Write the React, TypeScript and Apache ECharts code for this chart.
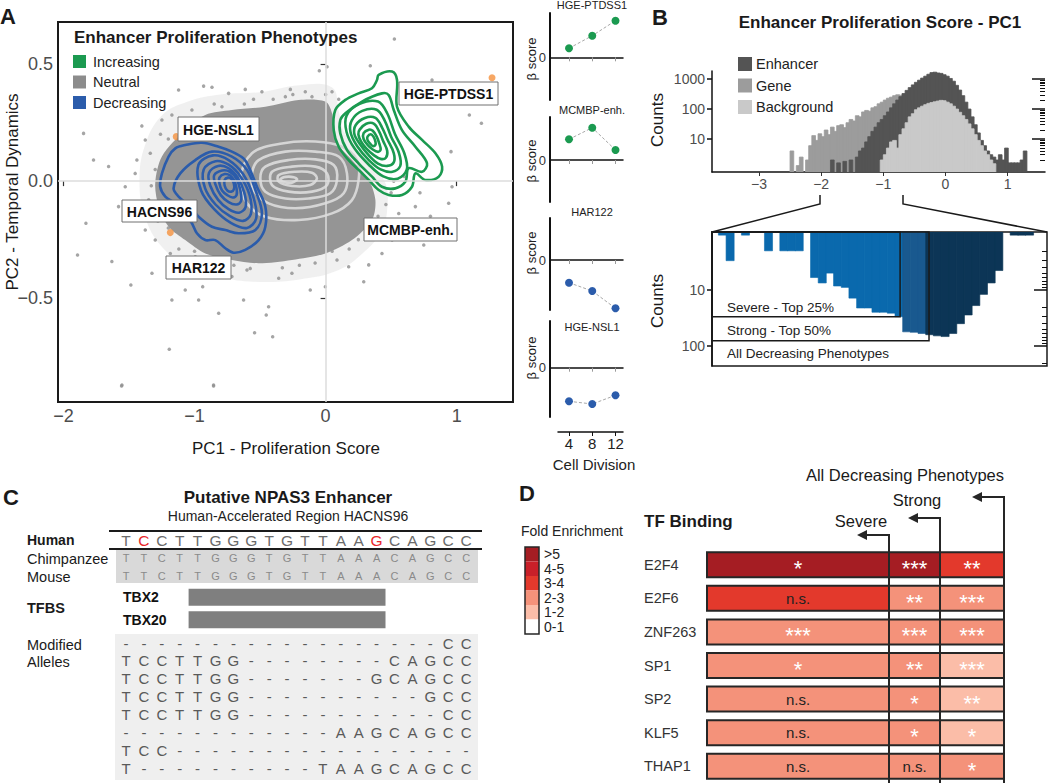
import React, { useEffect, useRef } from "react";
import * as echarts from "echarts";

const FONT = "'Liberation Sans', Arial, Helvetica, sans-serif";

/* ===================== DATA ===================== */
// ---- Panel A: PCA of enhancer phenotypes ----
const phenotypeNames = ["Increasing", "Neutral", "Decreasing"];
const enhancerPoints: number[][] = [
  [0.525, 0.607], [-0.048, 0.472], [0.011, 0.489], [0.341, 0.493], [-1.847, 0.204], [-1.893, -0.316],
  [-1.829, -0.18], [-1.631, -0.344], [-1.486, -0.444], [-1.554, -0.871], [-1.193, -0.719], [-0.855, -0.871],
  [-0.542, -0.648], [-0.404, -0.665], [-0.435, -0.537], [-0.453, -0.572], [-0.626, -0.508], [-0.816, -0.565],
  [-1.402, 0.236], [-1.376, 0.176], [-1.249, 0.261], [-1.173, 0.283], [-1.122, 0.389], [-0.931, 0.406],
  [-0.867, 0.401], [-0.74, 0.375], [-0.613, 0.392], [-0.486, 0.382], [-0.269, 0.392], [-0.155, 0.382],
  [0.049, 0.382], [0.957, 0.126], [1.097, 0.283], [1.189, 0.247], [0.939, -0.095], [0.914, -0.166],
  [0.749, -0.273], [0.43, -0.309], [0.329, -0.358], [0.291, -0.43], [0.087, -0.337], [-0.002, -0.451],
  [-0.117, -0.465], [-0.257, -0.394], [-0.358, -0.415], [-0.575, -0.373], [-1.656, 0.062], [-1.44, 0.09],
  [-1.453, 0.033], [-1.338, -0.152], [-1.376, -0.209], [-1.3, -0.252], [-1.185, -0.309], [-0.994, -0.323],
  [-0.938, -0.451], [-1.122, -0.394], [-1.771, 0.09], [0.812, 0.432], [0.761, 0.347], [0.965, -0.024],
  [0.685, -0.109], [0.558, -0.138], [0.634, -0.209], [0.507, -0.252], [-0.715, -0.408], [-0.842, -0.366],
  [-1.071, -0.465], [-1.173, -0.508], [-1.325, -0.394], [-0.969, -0.508], [0.176, -0.366], [0.43, -0.223],
  [-1.02, 0.304], [-0.791, 0.318], [-0.307, 0.361], [-0.104, 0.361], [-0.969, 0.233], [-1.338, 0.119],
  [-1.529, -0.024], [-1.58, -0.109], [-0.855, -0.876], [-1.557, -0.876], [-0.62, 0.33], [-0.4, 0.35],
  [-0.15, 0.33], [0.1, 0.35], [-1.2, 0.18], [-1.3, 0.05], [-1.35, -0.08], [-1.2, -0.2], [-1.0, -0.3],
  [-0.7, -0.36], [-0.45, -0.33], [-0.2, -0.36], [0.05, -0.3], [0.25, -0.25], [0.4, -0.15], [0.5, -0.05],
  [0.6, 0.02], [0.72, -0.05], [0.8, -0.15], [0.55, -0.2], [-1.26, 0.2], [-1.33, -0.02], [-1.28, -0.17],
  [-1.12, -0.29], [-0.86, -0.34], [-0.6, -0.38], [-0.33, -0.37], [-0.08, -0.35], [0.18, -0.29],
  [0.36, -0.22], [0.46, -0.1], [0.52, 0.0], [-0.55, 0.35], [-0.25, 0.37], [0.0, 0.37], [-0.85, 0.33],
];
const highlightedPoints: number[][] = [[1.27, 0.442], [-1.185, -0.22], [-1.14, 0.19]];
const labelledEnhancers = ["HGE-PTDSS1", "HGE-NSL1", "HACNS96", "HAR122", "MCMBP-enh."];
const denseCloudCore: number[][] = [
  [-1.071, 0.218], [-0.918, 0.283], [-0.715, 0.304], [-0.46, 0.318], [-0.206, 0.347], [-0.002, 0.34],
  [0.049, 0.29], [0.074, 0.176], [0.201, 0.09], [0.329, 0.005], [0.38, -0.081], [0.354, -0.166],
  [0.201, -0.252], [-0.002, -0.309], [-0.257, -0.337], [-0.511, -0.351], [-0.715, -0.337], [-0.918, -0.309],
  [-1.071, -0.252], [-1.198, -0.195], [-1.274, -0.109], [-1.3, -0.009], [-1.249, 0.105],
];
const denseCloudHalo: number[][] = [
  [-1.25, 0.28], [-1.05, 0.34], [-0.8, 0.37], [-0.5, 0.38], [-0.2, 0.41], [0.05, 0.4], [0.1, 0.3],
  [0.15, 0.2], [0.3, 0.1], [0.45, 0.0], [0.47, -0.12], [0.42, -0.22], [0.3, -0.3], [0.1, -0.38],
  [-0.2, -0.42], [-0.55, -0.43], [-0.8, -0.41], [-1.05, -0.36], [-1.25, -0.28], [-1.38, -0.15],
  [-1.42, 0.0], [-1.38, 0.15],
];
const neutralContours: number[][][] = [
  [[-0.562, 0.119], [-0.333, 0.161], [-0.078, 0.169], [0.125, 0.147], [0.24, 0.09], [0.252, 0.005], [0.201, -0.081], [0.049, -0.138], [-0.206, -0.166], [-0.46, -0.152], [-0.6, -0.095], [-0.651, 0.005]],
  [[-0.511, 0.09], [-0.307, 0.126], [-0.078, 0.126], [0.1, 0.105], [0.163, 0.033], [0.138, -0.052], [-0.002, -0.095], [-0.231, -0.116], [-0.435, -0.095], [-0.549, -0.038], [-0.562, 0.033]],
  [[-0.46, 0.062], [-0.282, 0.09], [-0.078, 0.093], [0.062, 0.069], [0.087, 0.005], [0.036, -0.052], [-0.129, -0.074], [-0.307, -0.074], [-0.46, -0.045], [-0.498, 0.012]],
  [[-0.409, 0.04], [-0.257, 0.062], [-0.078, 0.062], [0.011, 0.033], [0.011, -0.017], [-0.104, -0.045], [-0.282, -0.045], [-0.409, -0.017]],
  [[-0.358, 0.026], [-0.231, 0.04], [-0.104, 0.036], [-0.066, 0.012], [-0.117, -0.017], [-0.257, -0.021], [-0.358, -0.002]],
  [[-0.345, 0.008], [-0.282, 0.019], [-0.218, 0.009], [-0.257, -0.007], [-0.32, -0.004]],
];
const decreasingContours: number[][][] = [
  [[-1.071, 0.154], [-0.944, 0.164], [-0.816, 0.147], [-0.715, 0.126], [-0.626, 0.097], [-0.587, 0.062], [-0.524, -0.024], [-0.46, -0.109], [-0.46, -0.195], [-0.511, -0.252], [-0.613, -0.294], [-0.702, -0.306], [-0.765, -0.287], [-0.842, -0.252], [-0.918, -0.252], [-0.982, -0.223], [-1.02, -0.18], [-1.071, -0.138], [-1.147, -0.095], [-1.223, -0.066], [-1.262, -0.024], [-1.249, 0.033], [-1.198, 0.105], [-1.147, 0.14]],
  [[-0.994, 0.09], [-0.867, 0.126], [-0.715, 0.105], [-0.6, 0.048], [-0.536, -0.038], [-0.486, -0.138], [-0.536, -0.209], [-0.664, -0.223], [-0.765, -0.209], [-0.867, -0.195], [-0.969, -0.152], [-1.033, -0.109], [-1.122, -0.066], [-1.16, -0.031], [-1.109, 0.033]],
  [[-0.97, 0.07], [-0.86, 0.11], [-0.74, 0.09], [-0.63, 0.03], [-0.55, -0.07], [-0.53, -0.16], [-0.6, -0.2], [-0.72, -0.18], [-0.85, -0.12], [-0.95, -0.04]],
  [[-0.93, 0.05], [-0.84, 0.085], [-0.74, 0.07], [-0.65, 0.02], [-0.58, -0.06], [-0.57, -0.14], [-0.63, -0.17], [-0.73, -0.15], [-0.84, -0.1], [-0.92, -0.03]],
  [[-0.89, 0.035], [-0.82, 0.065], [-0.74, 0.055], [-0.67, 0.015], [-0.62, -0.05], [-0.61, -0.11], [-0.66, -0.135], [-0.74, -0.12], [-0.82, -0.08], [-0.88, -0.02]],
  [[-0.85, 0.025], [-0.79, 0.045], [-0.73, 0.04], [-0.68, 0.01], [-0.65, -0.04], [-0.645, -0.085], [-0.68, -0.1], [-0.74, -0.09], [-0.8, -0.06], [-0.84, -0.015]],
  [[-0.81, 0.015], [-0.77, 0.03], [-0.73, 0.025], [-0.7, 0.005], [-0.68, -0.03], [-0.68, -0.06], [-0.71, -0.07], [-0.75, -0.06], [-0.79, -0.04], [-0.81, -0.01]],
  [[-0.77, 0.005], [-0.745, 0.015], [-0.72, 0.01], [-0.7, -0.01], [-0.7, -0.035], [-0.72, -0.045], [-0.75, -0.04], [-0.77, -0.02]],
];
const increasingContours: number[][][] = [
  [[0.405, 0.454], [0.507, 0.468], [0.545, 0.432], [0.545, 0.318], [0.634, 0.233], [0.736, 0.176], [0.838, 0.119], [0.889, 0.062], [0.863, 0.019], [0.761, 0.005], [0.685, 0.033], [0.659, -0.024], [0.583, -0.059], [0.481, -0.059], [0.405, -0.038], [0.329, 0.005], [0.252, 0.048], [0.176, 0.09], [0.1, 0.147], [0.062, 0.218], [0.074, 0.304], [0.151, 0.347], [0.252, 0.375], [0.354, 0.397], [0.392, 0.432]],
  [[0.151, 0.29], [0.278, 0.34], [0.43, 0.375], [0.481, 0.368], [0.52, 0.304], [0.583, 0.218], [0.685, 0.147], [0.774, 0.076], [0.736, 0.04], [0.634, 0.055], [0.609, -0.002], [0.532, -0.031], [0.43, -0.024], [0.354, 0.019], [0.252, 0.076], [0.163, 0.133], [0.112, 0.204], [0.112, 0.261]],
  [[0.16, 0.28], [0.26, 0.33], [0.4, 0.34], [0.47, 0.29], [0.53, 0.2], [0.6, 0.12], [0.62, 0.05], [0.55, 0.01], [0.44, 0.02], [0.33, 0.07], [0.22, 0.14], [0.16, 0.21]],
  [[0.2, 0.26], [0.28, 0.3], [0.39, 0.305], [0.45, 0.26], [0.5, 0.19], [0.56, 0.12], [0.57, 0.065], [0.51, 0.04], [0.42, 0.05], [0.33, 0.09], [0.24, 0.15], [0.19, 0.21]],
  [[0.23, 0.24], [0.3, 0.27], [0.38, 0.27], [0.43, 0.23], [0.47, 0.18], [0.52, 0.12], [0.52, 0.08], [0.47, 0.065], [0.4, 0.075], [0.33, 0.11], [0.26, 0.16], [0.22, 0.2]],
  [[0.26, 0.22], [0.31, 0.245], [0.37, 0.245], [0.41, 0.21], [0.44, 0.17], [0.47, 0.13], [0.46, 0.1], [0.42, 0.095], [0.37, 0.11], [0.31, 0.14], [0.27, 0.17], [0.25, 0.2]],
  [[0.29, 0.205], [0.33, 0.22], [0.36, 0.215], [0.39, 0.19], [0.41, 0.16], [0.42, 0.135], [0.4, 0.125], [0.36, 0.135], [0.32, 0.155], [0.29, 0.18]],
  [[0.32, 0.19], [0.345, 0.2], [0.365, 0.19], [0.38, 0.17], [0.38, 0.155], [0.36, 0.15], [0.34, 0.16], [0.32, 0.175]],
];

// ---- Panel A (right): beta scores over cell divisions ----
const cellDivisions = [4, 8, 12];
const miniEnhancers = ["HGE-PTDSS1", "MCMBP-enh.", "HAR122", "HGE-NSL1"];
const betaHGEPTDSS1 = [0.09, 0.216, 0.366];
const betaMCMBP = [0.207, 0.323, 0.1];
const betaHAR122 = [-0.227, -0.31, -0.483];
const betaHGENSL1 = [-0.336, -0.363, -0.276];
const miniPhenotype = ["Increasing", "Increasing", "Decreasing", "Decreasing"];

// ---- Panel B: PC1 histograms (bin width 0.05) ----
const histBinWidth = 0.05;
const histSeriesNames = ["Enhancer", "Gene", "Background"];
const geneBinStart = -2.55;
const geneCounts = [0, 4, 0, 1.3, 2.5, 0, 2, 6, 13, 9, 15, 12, 20, 14, 25, 18, 28, 30, 24, 35, 45, 40, 60, 55, 80, 90, 85, 110, 120, 150, 170, 200, 230, 250, 280, 300, 290, 280, 260, 200, 150, 100, 60, 30];
const enhancerBinStart = -1.9;
const enhancerCounts = [0, 2, 0, 1.6, 0, 1.8, 0, 2, 0, 2.5, 4, 5, 8, 12, 18, 25, 35, 45, 60, 80, 110, 150, 200, 260, 330, 420, 520, 640, 780, 920, 1080, 1250, 1450, 1650, 1700, 1600, 1550, 1400, 1250, 1050, 850, 620, 430, 280, 170, 100, 55, 30, 16, 9, 6, 4, 3, 2.5, 2, 3, 2, 5, 1.6, 1.6, 1.6, 1.6, 2, 4];
const backgroundBinStart = -1.1;
const backgroundCounts = [0, 2, 3, 5, 8, 9, 5, 14, 22, 35, 55, 70, 95, 110, 125, 140, 155, 165, 175, 185, 195, 190, 170, 150, 125, 100, 78, 60, 45, 32, 22, 14, 9, 6, 4, 3, 2, 1.5];
const histTicks = [-3, -2, -1, 0, 1];

// ---- Panel B (zoom): decreasing phenotypes (bin width 0.03) ----
const decBinWidth = 0.03;
const decBinStart = -1.975;
const decCounts = [1.05, 3, 0, 1.05, 0, 0, 2, 0, 2, 2, 2, 0, 6, 7.5, 5, 8.5, 9, 14, 21, 21, 25, 25, 26, 30, 56, 57, 60, 63, 66, 68, 60, 40, 28, 19, 12, 7.5, 4.5, 0, 1.05, 1.05, 1.05];
const decClasses = ["Severe - Top 25%", "Strong - Top 50%", "All Decreasing Phenotypes"];
const severeCut = -1.265;
const strongCut = -1.152;
const severeBoxCount = 30;
const strongBoxCount = 81;

// ---- Panel C: sequence ----
const humanSeq = "TCCTTGGGTGTTAAGCAGCC";
const chimpSeq = "TTCTTGGGTGTTAAACAGCC";
const mouseSeq = "TTCTTGGGTGTTAAACAGCC";
const humanChangedSites = [1, 14];
const tfbsNames = ["TBX2", "TBX20"];
const tfbsStart = [4, 4];
const tfbsEnd = [14, 14];
const modifiedAlleles = [
  "------------------CC",
  "TCCTTGG--------CAGCC",
  "TCCTTGG-------GCAGCC",
  "TCCTTGG----------GCC",
  "TCCTTGG-----------CC",
  "------------AAGCAGCC",
  "TCC-----------------",
  "T----------TAAGCAGCC",
];

// ---- Panel D: TF binding enrichment ----
const tfNames = ["E2F4", "E2F6", "ZNF263", "SP1", "SP2", "KLF5", "THAP1"];
const enrichmentSets = ["Severe", "Strong", "All Decreasing Phenotypes"];
const foldSevere = [5.6, 3.4, 2.6, 2.4, 2.3, 2.4, 2.2];
const foldStrong = [5.3, 2.5, 2.7, 2.6, 2.5, 2.6, 2.4];
const foldAll = [3.5, 2.6, 2.5, 1.8, 1.6, 1.5, 2.7];
const sigSevere = ["*", "n.s.", "***", "*", "n.s.", "n.s.", "n.s."];
const sigStrong = ["***", "**", "***", "**", "*", "*", "n.s."];
const sigAll = ["**", "***", "***", "***", "**", "*", "*"];
const foldBinLabels = [">5", "4-5", "3-4", "2-3", "1-2", "0-1"];
const foldBinLower = [5, 4, 3, 2, 1, 0];

/* ===================== STYLE ===================== */
const phenoColors: Record<string, string> = { Increasing: "#1b9a50", Neutral: "#8c8c8c", Decreasing: "#2b5cab" };
const histColors = ["#545454", "#9c9c9c", "#c9c9c9"];
const decColors = ["#0a69ad", "#19598f", "#0c3556"];
const foldColors = ["#a51d23", "#c92029", "#e3392c", "#f4927a", "#fbbda8", "#ffffff"];
const minus = (s: string) => s.replace(/-/g, "\u2212");
const log10 = (v: number) => Math.log(v) / Math.LN10;

function T(text: string, x: number, y: number, o: any = {}) {
  return {
    type: "text", x, y, z: 100, silent: true, rotation: o.rotation || 0,
    style: {
      text, x: 0, y: 0, fill: o.color || "#1a1a1a", fontSize: o.size || 14,
      fontWeight: o.bold ? "bold" : "normal", fontFamily: FONT,
      align: o.align || "left", verticalAlign: "middle",
    },
  };
}
function R(x: number, y: number, w: number, h: number, fill: string, o: any = {}) {
  return {
    type: "rect", z: o.z ?? 100, silent: true, shape: { x, y, width: w, height: h },
    style: { fill, stroke: o.stroke || null, lineWidth: o.lw || 0 },
  };
}
function L(points: number[][], o: any = {}) {
  return { type: "polyline", z: 100, silent: true, shape: { points }, style: { stroke: o.color || "#1a1a1a", lineWidth: o.lw || 1.5, fill: null } };
}

/* ===================== OPTION ===================== */
function buildOption() {
  const grid: any[] = [];
  const xAxis: any[] = [];
  const yAxis: any[] = [];
  const series: any[] = [];
  const graphic: any[] = [];
  const noSplit = { show: false };

  // ---------- Panel A main ----------
  grid.push({ left: 58, top: 22, width: 455, height: 380, show: true, borderColor: "#1a1a1a", borderWidth: 2, backgroundColor: "transparent" });
  xAxis.push({
    type: "value", gridIndex: 0, min: -2.042, max: 1.43, splitLine: noSplit, axisLine: { show: false },
    axisTick: { show: true, customValues: [-2, -1, 0, 1], length: 5, lineStyle: { color: "#333", width: 1.2 } },
    axisLabel: { customValues: [-2, -1, 0, 1], fontSize: 18, color: "#4d4d4d", margin: 5, fontFamily: FONT, formatter: (v: number) => minus(String(v)) },
  });
  yAxis.push({
    type: "value", gridIndex: 0, min: -0.944, max: 0.68, splitLine: noSplit, axisLine: { show: false },
    axisTick: { show: true, customValues: [-0.5, 0, 0.5], length: 5, lineStyle: { color: "#333", width: 1.2 } },
    axisLabel: { customValues: [-0.5, 0, 0.5], fontSize: 18, color: "#4d4d4d", margin: 5, fontFamily: FONT, formatter: (v: number) => minus(v.toFixed(1)) },
  });
  const polySeries = (rings: number[][][], fill: string | null, stroke: string | null, z: number, lw = 2.5, smooth = 0.35) => ({
    type: "custom", xAxisIndex: 0, yAxisIndex: 0, z, silent: true, clip: true,
    data: rings.map((r) => [r[0][0], r[0][1]]),
    renderItem: (params: any, api: any) => {
      const pts = rings[params.dataIndex].map((p) => api.coord(p));
      return { type: "polygon", shape: { points: pts, smooth }, style: { fill: fill || "none", stroke: stroke || "none", lineWidth: lw } };
    },
  });
  series.push(polySeries([denseCloudHalo], "rgba(150,150,150,0.14)", null, 1, 0, 0.4));
  series.push({
    type: "scatter", xAxisIndex: 0, yAxisIndex: 0, z: 1, silent: true, symbolSize: 3.5,
    itemStyle: { color: "#8f8f8f" }, data: enhancerPoints,
    markLine: {
      silent: true, symbol: "none", label: { show: false }, animation: false,
      lineStyle: { color: "#dcdcdc", width: 1.5, type: "solid" },
      data: [{ xAxis: 0 }, { yAxis: 0 }],
    },
  });
  series.push(polySeries([denseCloudCore], "#959595", null, 2, 0, 0.3));
  series.push(polySeries(neutralContours, null, "#d5d5d5", 3, 2.6));
  series.push(polySeries(decreasingContours, null, phenoColors.Decreasing, 4, 2.6));
  series.push(polySeries(increasingContours, null, phenoColors.Increasing, 4, 2.6));
  series.push({ type: "scatter", xAxisIndex: 0, yAxisIndex: 0, z: 6, silent: true, symbolSize: 7, itemStyle: { color: "#f5913d" }, data: highlightedPoints });

  // ---------- Mini panels ----------
  const miniLayout = [
    { top: 13, h: 87, min: -0.427, max: 0.443, title: 5, beta: 59 },
    { top: 117, h: 85, min: -0.42, max: 0.43, title: 110, beta: 161 },
    { top: 218, h: 92, min: -0.5, max: 0.42, title: 212, beta: 253 },
    { top: 321, h: 96, min: -0.493, max: 0.467, title: 327, beta: 358 },
  ];
  const miniValues = [betaHGEPTDSS1, betaMCMBP, betaHAR122, betaHGENSL1];
  miniLayout.forEach((m, i) => {
    const gi = grid.length;
    grid.push({ left: 550, top: m.top, width: 73, height: m.h });
    xAxis.push({
      type: "value", gridIndex: gi, min: 0.73, max: 13.29, splitLine: noSplit,
      axisLine: { show: true, onZero: true, lineStyle: { color: "#111", width: 1.5 } },
      axisTick: { show: true, customValues: cellDivisions, length: 4, lineStyle: { color: "#9a9a9a" } },
      axisLabel: { show: false },
    });
    yAxis.push({
      type: "value", gridIndex: gi, min: m.min, max: m.max, splitLine: noSplit,
      axisLine: { show: true, onZero: false, lineStyle: { color: "#111", width: 2 } },
      axisTick: { show: false },
      axisLabel: { customValues: [0], fontSize: 13, color: "#333", margin: 4, fontFamily: FONT },
    });
    const col = phenoColors[miniPhenotype[i]];
    series.push({
      type: "line", xAxisIndex: gi, yAxisIndex: gi, silent: true, z: 5,
      data: cellDivisions.map((c, k) => [c, miniValues[i][k]]),
      symbol: "circle", symbolSize: 8, itemStyle: { color: col },
      lineStyle: { color: "#a8a8a8", width: 1, type: [3, 2] },
    });
    graphic.push(T(miniEnhancers[i], 592, m.title, { size: 11, align: "center", color: "#222" }));
    graphic.push(T("\u03b2 score", 531, m.beta, { size: 13, align: "center", rotation: Math.PI / 2, color: "#222" }));
  });
  {
    const gi = grid.length;
    grid.push({ left: 558, top: 431, width: 65, height: 1 });
    xAxis.push({
      type: "value", gridIndex: gi, min: 2.107, max: 13.29, splitLine: noSplit,
      axisLine: { show: true, onZero: false, lineStyle: { color: "#111", width: 1.5 } },
      axisTick: { show: true, customValues: cellDivisions, length: 4, lineStyle: { color: "#111" } },
      axisLabel: { customValues: cellDivisions, fontSize: 15, color: "#222", margin: 4, fontFamily: FONT },
    });
    yAxis.push({ type: "value", gridIndex: gi, show: false, min: 0, max: 1 });
    graphic.push(T("Cell Division", 594, 464, { size: 15, align: "center", color: "#222" }));
  }

  // ---------- Panel B top ----------
  const bTopGrid = grid.length;
  grid.push({ left: 712, top: 71, width: 333, height: 101 });
  const bTopMin = -0.1, bTopMax = 3.27;
  xAxis.push({
    type: "value", gridIndex: bTopGrid, min: -3.755, max: 1.6, splitLine: noSplit,
    axisLine: { show: true, onZero: false, lineStyle: { color: "#111", width: 1.5 } },
    axisTick: { show: true, customValues: histTicks, length: 4, lineStyle: { color: "#333" } },
    axisLabel: { customValues: histTicks, fontSize: 14, color: "#4d4d4d", margin: 5, fontFamily: FONT, formatter: (v: number) => minus(String(v)) },
  });
  const bTopY = yAxis.length;
  const majors3 = [1, 2, 3];
  const minors3: number[] = [];
  [1, 10, 100, 1000].forEach((d) => [2, 3, 4, 5, 6, 7, 8, 9].forEach((k) => { const v = log10(k * d); if (v < bTopMax) minors3.push(v); }));
  yAxis.push({
    type: "value", gridIndex: bTopGrid, min: bTopMin, max: bTopMax, splitLine: noSplit,
    axisLine: { show: true, onZero: false, lineStyle: { color: "#111", width: 1.5 } },
    axisTick: { show: true, customValues: majors3, length: 5, lineStyle: { color: "#111", width: 1.5 } },
    axisLabel: { customValues: majors3, fontSize: 14, color: "#4d4d4d", margin: 7, fontFamily: FONT, formatter: (v: number) => String(Math.round(Math.pow(10, v))) },
  });
  yAxis.push({ type: "value", gridIndex: bTopGrid, min: bTopMin, max: bTopMax, splitLine: noSplit, axisLine: { show: false, onZero: false }, axisLabel: { show: false }, axisTick: { show: true, inside: true, customValues: majors3, length: 13, lineStyle: { color: "#111", width: 1.5 } } });
  yAxis.push({ type: "value", gridIndex: bTopGrid, min: bTopMin, max: bTopMax, splitLine: noSplit, axisLine: { show: false, onZero: false }, axisLabel: { show: false }, axisTick: { show: true, inside: true, customValues: minors3, length: 5, lineStyle: { color: "#111", width: 1 } } });
  const histSeries = (start: number, counts: number[], color: string, z: number) => ({
    type: "custom", xAxisIndex: bTopGrid, yAxisIndex: bTopY, z, silent: true, clip: true,
    data: counts.map((c, i) => [start + i * histBinWidth, c > 0 ? log10(c) : null]).filter((d) => d[1] !== null),
    renderItem: (params: any, api: any) => {
      const x0 = api.value(0), v = api.value(1);
      const p0 = api.coord([x0, bTopMin]);
      const p1 = api.coord([x0 + histBinWidth, v]);
      return { type: "rect", shape: { x: p0[0], y: p1[1], width: p1[0] - p0[0] + 0.6, height: p0[1] - p1[1] }, style: { fill: color, stroke: color, lineWidth: 0.8 } };
    },
  });
  series.push(histSeries(geneBinStart, geneCounts, histColors[1], 2));
  series.push(histSeries(enhancerBinStart, enhancerCounts, histColors[0], 3));
  series.push(histSeries(backgroundBinStart, backgroundCounts, histColors[2], 4));

  // ---------- Panel B bottom ----------
  const bBotGrid = grid.length;
  grid.push({ left: 712, top: 232, width: 335, height: 134, show: true, borderColor: "#1a1a1a", borderWidth: 1.5, backgroundColor: "transparent" });
  const bBotMin = -0.035, bBotMax = 2.358, bBotXMin = -2.0, bBotXMax = -0.691;
  xAxis.push({ type: "value", gridIndex: bBotGrid, show: false, min: bBotXMin, max: bBotXMax });
  const bBotY = yAxis.length;
  const minors2: number[] = [];
  [1, 10, 100].forEach((d) => [2, 3, 4, 5, 6, 7, 8, 9].forEach((k) => { const v = log10(k * d); if (v < bBotMax) minors2.push(v); }));
  yAxis.push({
    type: "value", gridIndex: bBotGrid, inverse: true, min: bBotMin, max: bBotMax, splitLine: noSplit,
    axisLine: { show: true, onZero: false, lineStyle: { color: "#111", width: 1.5 } },
    axisTick: { show: true, customValues: [1, 2], length: 5, lineStyle: { color: "#111", width: 1.5 } },
    axisLabel: { customValues: [1, 2], fontSize: 14, color: "#4d4d4d", margin: 7, fontFamily: FONT, formatter: (v: number) => String(Math.round(Math.pow(10, v))) },
  });
  yAxis.push({ type: "value", gridIndex: bBotGrid, inverse: true, min: bBotMin, max: bBotMax, splitLine: noSplit, axisLine: { show: false, onZero: false }, axisLabel: { show: false }, axisTick: { show: true, inside: true, customValues: [1, 2], length: 13, lineStyle: { color: "#111", width: 1.5 } } });
  yAxis.push({ type: "value", gridIndex: bBotGrid, inverse: true, min: bBotMin, max: bBotMax, splitLine: noSplit, axisLine: { show: false, onZero: false }, axisLabel: { show: false }, axisTick: { show: true, inside: true, customValues: minors2, length: 5, lineStyle: { color: "#111", width: 1 } } });
  series.push({
    type: "custom", xAxisIndex: bBotGrid, yAxisIndex: bBotY, z: 3, silent: true, clip: true,
    data: decCounts.map((c, i) => [decBinStart + i * decBinWidth, c > 0 ? log10(c) : null]).filter((d) => d[1] !== null),
    renderItem: (params: any, api: any) => {
      const x0 = api.value(0), v = api.value(1);
      const center = x0 + decBinWidth / 2;
      const color = center < severeCut ? decColors[0] : center < strongCut ? decColors[1] : decColors[2];
      const p0 = api.coord([x0, bBotMin]);
      const p1 = api.coord([x0 + decBinWidth, v]);
      return { type: "rect", shape: { x: p0[0], y: p0[1], width: p1[0] - p0[0] + 0.4, height: p1[1] - p0[1] }, style: { fill: color, stroke: color, lineWidth: 0.6 } };
    },
  });
  series.push({
    type: "custom", xAxisIndex: bBotGrid, yAxisIndex: bBotY, z: 5, silent: true,
    data: [[severeCut, log10(severeBoxCount)], [strongCut, log10(strongBoxCount)]],
    renderItem: (params: any, api: any) => {
      const p0 = api.coord([bBotXMin, bBotMin]);
      const p1 = api.coord([api.value(0), api.value(1)]);
      return { type: "rect", shape: { x: p0[0], y: p0[1], width: p1[0] - p0[0], height: p1[1] - p0[1] }, style: { fill: "none", stroke: "#1a1a1a", lineWidth: 1.5 } };
    },
  });

  // ---------- Panel D table ----------
  const dGrid = grid.length;
  const colEdges = [0, 182, 233, 297];
  grid.push({ left: 707, top: 548, width: 297, height: 241.5 });
  xAxis.push({ type: "value", gridIndex: dGrid, show: false, min: 0, max: 297 });
  yAxis.push({
    type: "category", gridIndex: dGrid, data: tfNames, inverse: true,
    axisLine: { show: false }, axisTick: { show: false }, splitLine: noSplit,
    axisLabel: { align: "left", margin: 63, fontSize: 14.5, color: "#333", fontFamily: FONT },
  });
  const foldSets = [foldSevere, foldStrong, foldAll];
  const sigSets = [sigSevere, sigStrong, sigAll];
  const tableData: number[][] = [];
  tfNames.forEach((_, r) => foldSets.forEach((fs, c) => tableData.push([(colEdges[c] + colEdges[c + 1]) / 2, r, fs[r], c])));
  const foldColor = (f: number) => foldColors[foldBinLower.findIndex((l) => f >= l)];
  series.push({
    type: "custom", xAxisIndex: dGrid, yAxisIndex: yAxis.length - 1, z: 4, silent: true,
    data: tableData,
    renderItem: (params: any, api: any) => {
      const r = api.value(1), f = api.value(2), c = api.value(3);
      const pL = api.coord([colEdges[c], r]);
      const pR = api.coord([colEdges[c + 1], r]);
      const h = 25;
      const sig = sigSets[c][r];
      const ns = sig === "n.s.";
      return {
        type: "group",
        children: [
          { type: "rect", shape: { x: pL[0], y: pL[1] - h / 2, width: pR[0] - pL[0], height: h }, style: { fill: foldColor(f), stroke: "#262626", lineWidth: 2 } },
          { type: "text", style: { text: sig, x: (pL[0] + pR[0]) / 2, y: pL[1] + (ns ? 0 : 4), align: "center", verticalAlign: "middle", fill: ns ? "#222" : "#ffffff", fontSize: ns ? 15 : 22, fontFamily: FONT } },
        ],
      };
    },
  });

  // ---------- Panel C TFBS bars ----------
  const cGrid = grid.length;
  grid.push({ left: 117, top: 586, width: 358, height: 45 });
  xAxis.push({ type: "value", gridIndex: cGrid, show: false, min: -0.5, max: 19.5 });
  yAxis.push({
    type: "category", gridIndex: cGrid, data: tfbsNames, inverse: true,
    axisLine: { show: false }, axisTick: { show: false }, splitLine: noSplit,
    axisLabel: { inside: true, align: "left", margin: 6, fontSize: 14, fontWeight: "bold", color: "#111", fontFamily: FONT },
  });
  series.push({
    type: "custom", xAxisIndex: cGrid, yAxisIndex: yAxis.length - 1, z: 3, silent: true,
    data: tfbsNames.map((_, i) => [tfbsStart[i], i, tfbsEnd[i]]),
    renderItem: (params: any, api: any) => {
      const p0 = api.coord([api.value(0) - 0.5, api.value(1)]);
      const p1 = api.coord([api.value(2) + 0.5, api.value(1)]);
      return { type: "rect", shape: { x: p0[0], y: p0[1] - 8.5, width: p1[0] - p0[0], height: 17 }, style: { fill: "#7f7f7f" } };
    },
  });

  // ===================== GRAPHICS (text & annotations) =====================
  graphic.push(T("A", 0, 16, { size: 22, bold: true }));
  graphic.push(T("B", 652, 17, { size: 22, bold: true }));
  graphic.push(T("C", 3, 497, { size: 22, bold: true }));
  graphic.push(T("D", 519, 493, { size: 22, bold: true }));

  // Panel A axis names & legend
  graphic.push(T("PC2 - Temporal Dynamics", 12, 192, { size: 17, align: "center", rotation: Math.PI / 2 }));
  graphic.push(T("PC1 - Proliferation Score", 286, 448, { size: 17, align: "center" }));
  graphic.push(T("Enhancer Proliferation Phenotypes", 74, 37, { size: 17, bold: true }));
  phenotypeNames.forEach((n, i) => {
    graphic.push(R(73, 55 + 20.5 * i, 13, 13, phenoColors[n]));
    graphic.push(T(n, 93, 61.5 + 20.5 * i, { size: 14.5, color: "#222" }));
  });
  const labelBoxes = [[399, 82, 99, 23], [178, 117, 81, 24], [122, 200, 75, 22], [166, 256, 65, 23], [364, 218, 93, 23]];
  labelledEnhancers.forEach((n, i) => {
    const [x, y, w, h] = labelBoxes[i];
    graphic.push(R(x, y, w, h, "#ffffff", { stroke: "#707070", lw: 1 }));
    graphic.push(T(n, x + w / 2, y + h / 2 + 0.5, { size: 14, bold: true, align: "center", color: "#111" }));
  });

  // Panel B texts
  graphic.push(T("Enhancer Proliferation Score - PC1", 880, 22, { size: 17, bold: true, align: "center" }));
  graphic.push(T("Counts", 657, 120, { size: 17, align: "center", rotation: Math.PI / 2 }));
  graphic.push(T("Counts", 657, 301, { size: 17, align: "center", rotation: Math.PI / 2 }));
  [0, 1, 2].forEach((k, i) => {
    graphic.push(R(738, 57 + 21.5 * i, 14, 14, histColors[k]));
    graphic.push(T(histSeriesNames[k], 756, 64 + 21.5 * i, { size: 14.5, color: "#222" }));
  });
  graphic.push(L([[820, 195], [820, 204], [712, 232]], { lw: 1.5 }));
  graphic.push(L([[903, 195], [903, 204], [1047, 232]], { lw: 1.5 }));
  decClasses.forEach((n, i) => graphic.push(T(n, 727, [307, 330, 353][i], { size: 13.5, color: "#222" })));

  // Panel C texts
  graphic.push(T("Putative NPAS3 Enhancer", 288, 497, { size: 17, bold: true, align: "center" }));
  graphic.push(T("Human-Accelerated Region HACNS96", 288, 516, { size: 14, align: "center", color: "#222" }));
  graphic.push(R(116, 550, 362, 33, "#d9d9d9", { z: 1 }));
  graphic.push(R(115, 634, 363, 146, "#efefef", { z: 1 }));
  graphic.push(L([[109, 531], [482, 531]], { lw: 1.8 }));
  graphic.push(L([[109, 549], [482, 549]], { lw: 1.8 }));
  graphic.push(T("Human", 27, 540, { size: 14, bold: true }));
  graphic.push(T("Chimpanzee", 27, 559, { size: 14.5 }));
  graphic.push(T("Mouse", 27, 577, { size: 14.5 }));
  graphic.push(T("TFBS", 27, 608, { size: 14.5, bold: true }));
  graphic.push(T("Modified", 27, 645, { size: 14.5 }));
  graphic.push(T("Alleles", 27, 662, { size: 14.5 }));
  const seqX = (i: number) => 126 + 17.9 * i;
  humanSeq.split("").forEach((ch, i) => graphic.push(T(ch, seqX(i), 540, { size: 15.5, align: "center", color: humanChangedSites.includes(i) ? "#e8262b" : "#6b6b6b" })));
  chimpSeq.split("").forEach((ch, i) => graphic.push(T(ch, seqX(i), 558, { size: 11, align: "center", color: "#8a8a8a" })));
  mouseSeq.split("").forEach((ch, i) => graphic.push(T(ch, seqX(i), 575.5, { size: 11, align: "center", color: "#8a8a8a" })));
  modifiedAlleles.forEach((s, r) => s.split("").forEach((ch, i) => graphic.push(T(ch, seqX(i), 643 + 17.9 * r, { size: 15, align: "center", color: "#5a5a5a" }))));

  // Panel D texts, legend, arrows
  graphic.push(T("Fold Enrichment", 521, 531, { size: 14, color: "#222" }));
  foldBinLabels.forEach((lab, i) => {
    graphic.push(R(525, 547 + 14.5 * i, 14, 14.5, foldColors[i], { z: 99 }));
    graphic.push(T(lab, 544, 554 + 14.5 * i, { size: 14, color: "#222" }));
  });
  graphic.push(R(525, 547, 14, 87, "none", { stroke: "#262626", lw: 1.5 }));
  graphic.push(T("TF Binding", 644, 521, { size: 17, bold: true }));
  const arrows = [
    { x: 889, y: 535, head: 857, label: enrichmentSets[0], lx: 861, ly: 521 },
    { x: 940, y: 518, head: 908, label: enrichmentSets[1], lx: 917, ly: 500 },
    { x: 1004, y: 497, head: 972, label: enrichmentSets[2], lx: 905, ly: 475 },
  ];
  arrows.forEach((a) => {
    graphic.push(L([[a.x, 790], [a.x, a.y], [a.head + 8, a.y]], { lw: 2, color: "#262626" }));
    graphic.push({ type: "polygon", z: 100, silent: true, shape: { points: [[a.head, a.y], [a.head + 10, a.y - 5], [a.head + 10, a.y + 5]] }, style: { fill: "#262626" } });
    graphic.push(T(a.label, a.lx, a.ly, { size: 16.5, align: "center", color: "#1a1a1a" }));
  });

  return {
    animation: false,
    textStyle: { fontFamily: FONT },
    backgroundColor: "#ffffff",
    grid, xAxis, yAxis, series, graphic,
  };
}

export default function App() {
  const ref = useRef<HTMLDivElement>(null);
  useEffect(() => {
    if (!ref.current) return;
    const chart = echarts.init(ref.current, null, { renderer: "svg" });
    chart.setOption(buildOption() as any);
    return () => chart.dispose();
  }, []);
  return <div ref={ref} style={{ position: "absolute", left: 0, top: 0, width: 1050, height: 783 }} />;
}
